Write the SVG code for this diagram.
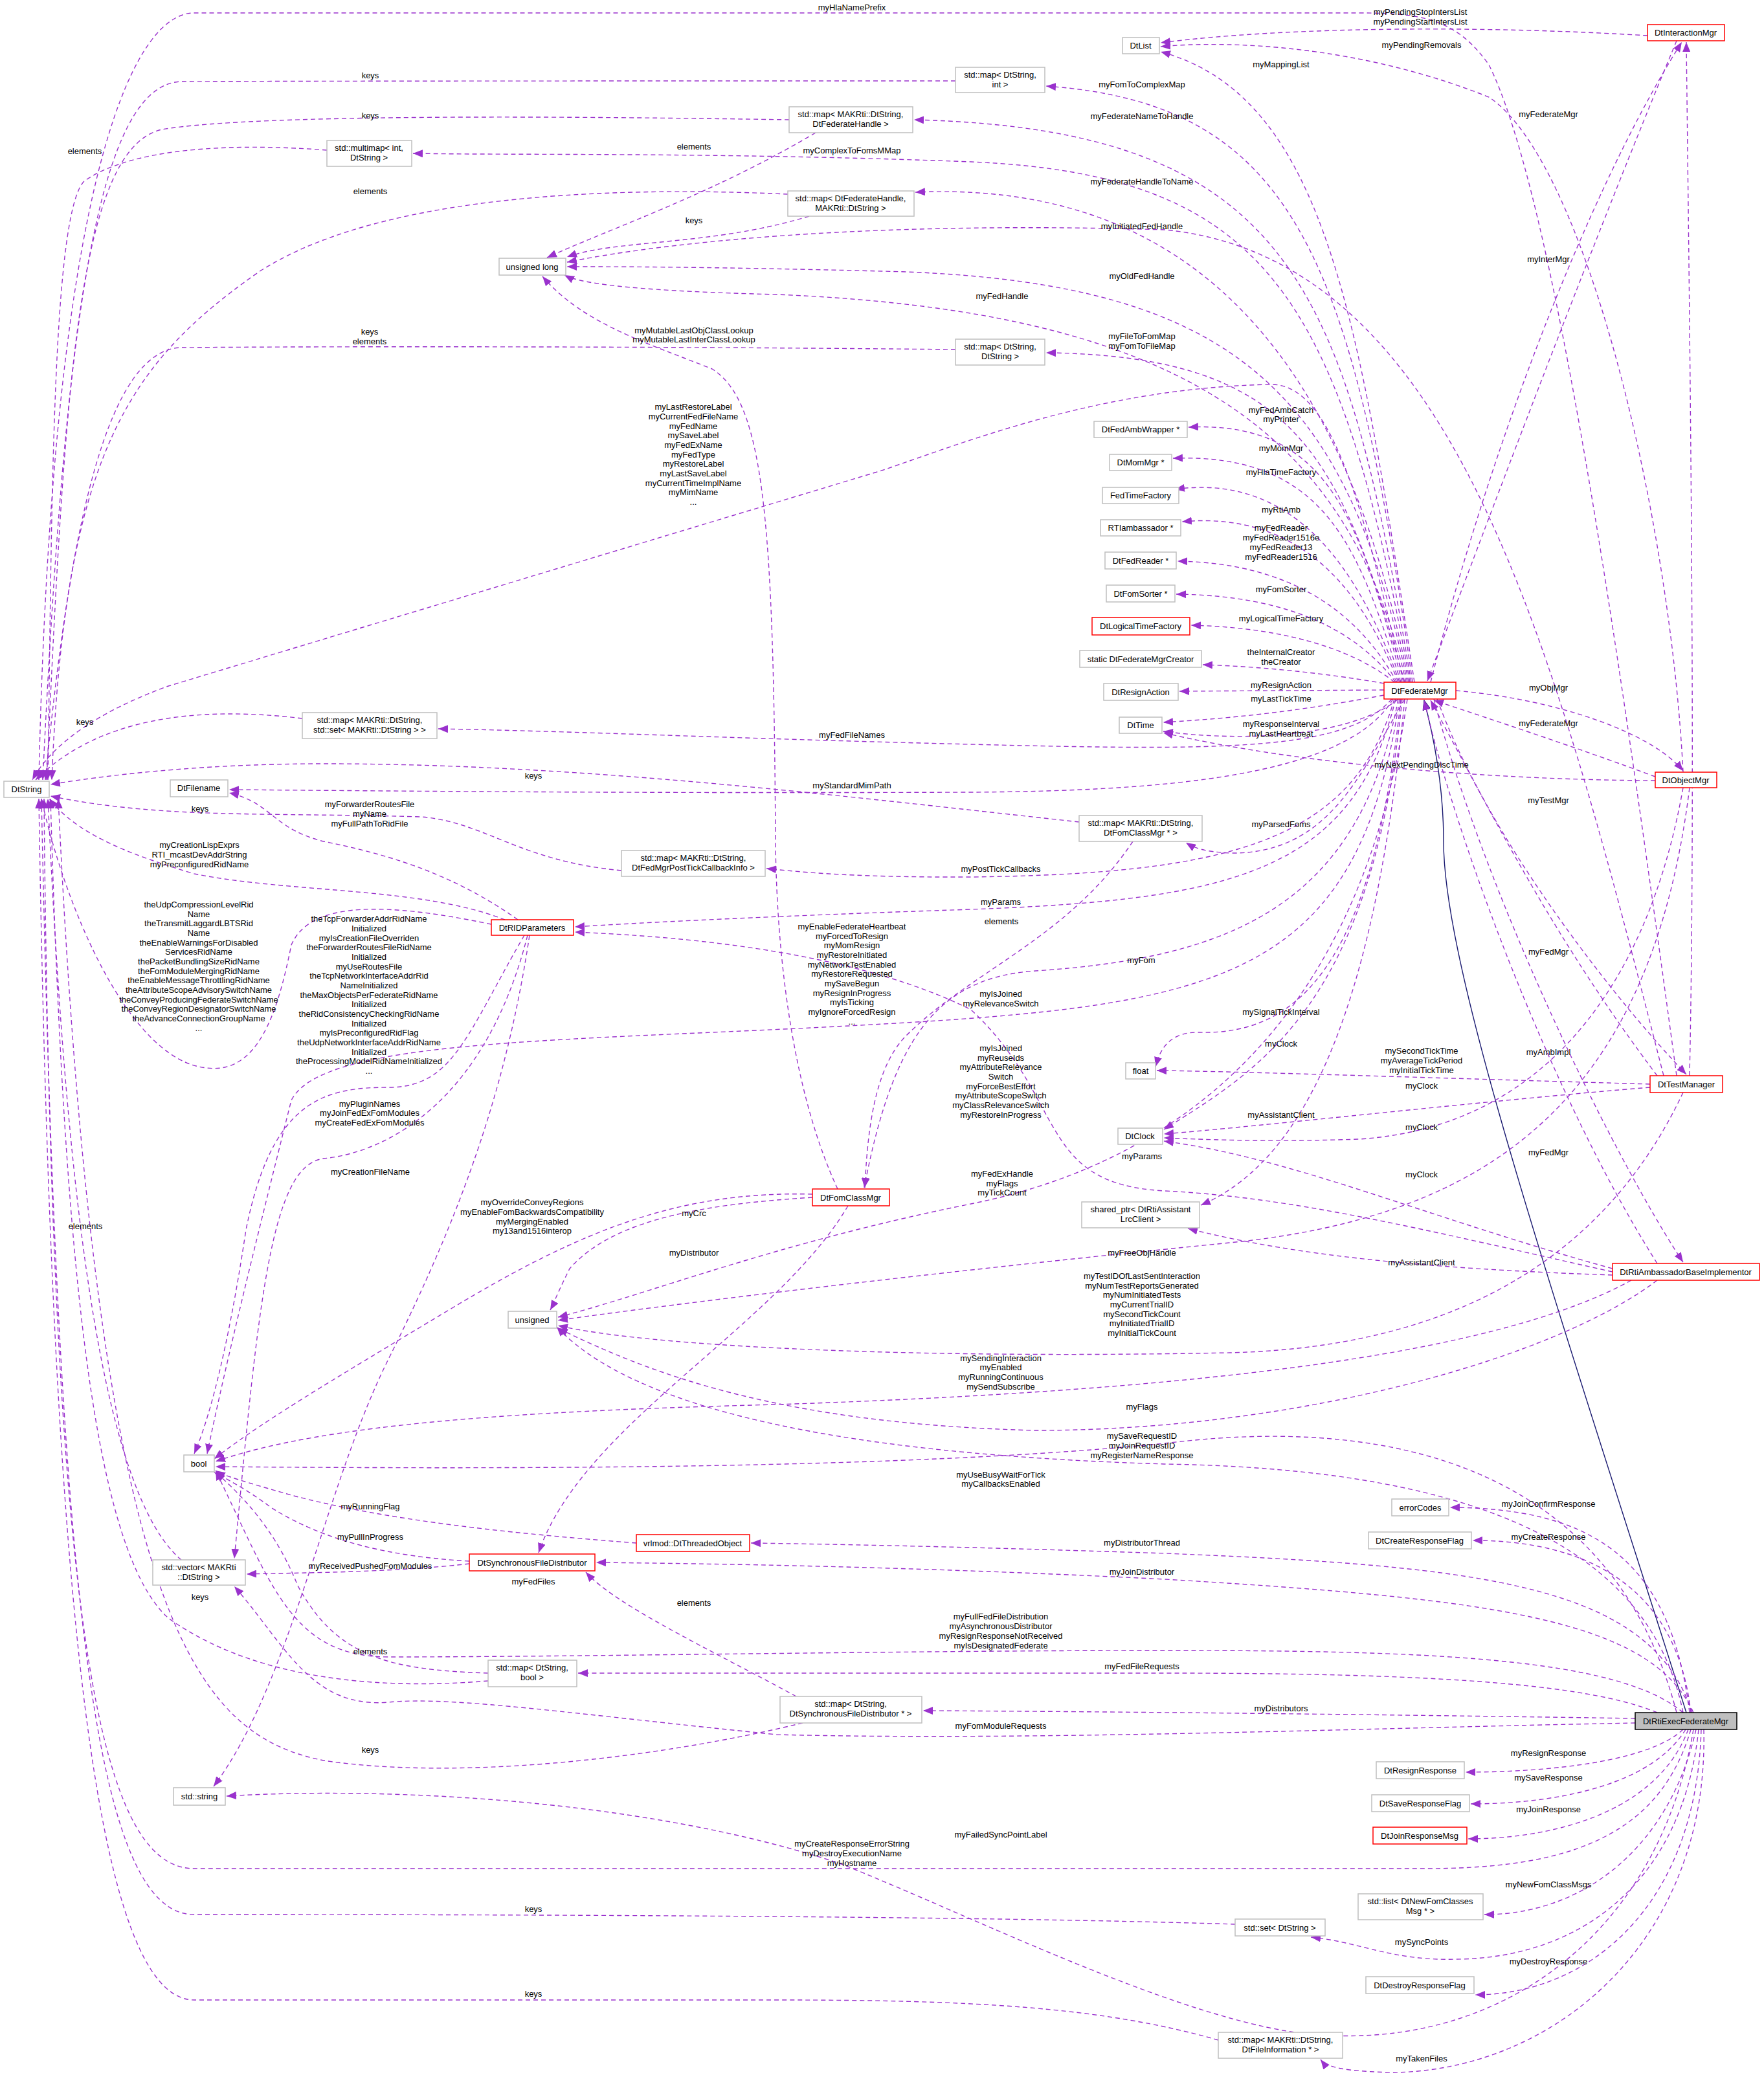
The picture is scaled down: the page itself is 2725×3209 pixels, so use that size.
<svg xmlns="http://www.w3.org/2000/svg" width="2725" height="3209" viewBox="0 0 2725 3209">
<style>
text{font-family:"Liberation Sans",Arial,sans-serif;font-size:13px;fill:#000}
.n{text-anchor:middle}
.b{fill:#fff;stroke:#bfbfbf;stroke-width:1.5}
.r{fill:#fff;stroke:#ff0000;stroke-width:1.5}
.g{fill:#bfbfbf;stroke:#000;stroke-width:1.5}
.e{fill:none;stroke:#9a32cd;stroke-width:1.4;stroke-dasharray:7,5;marker-end:url(#a)}
.i{fill:none;stroke:#191970;stroke-width:1.4;marker-end:url(#ai)}
.l{text-anchor:middle}
</style>
<defs>
<marker id="a" markerUnits="userSpaceOnUse" markerWidth="16" markerHeight="12" refX="15" refY="6" orient="auto"><path d="M0,0 L15,6 L0,12 z" fill="#9a32cd"/></marker>
<marker id="ai" markerUnits="userSpaceOnUse" markerWidth="16" markerHeight="12" refX="15" refY="6" orient="auto"><path d="M0,0 L15,6 L0,12 z" fill="#9a32cd" stroke="#191970"/></marker>
</defs>
<rect width="2725" height="3209" fill="#fff"/>
<g id="connectors">
<path class="e" d="M2185,1054 C2100,500 2050,150 1793,80"/>
<path class="e" d="M2182,1054 C2090,400 2000,160 1616,133"/>
<path class="e" d="M2180,1054 C2080,450 2000,200 1412,185"/>
<path class="e" d="M2178,1054 C2070,450 1950,270 1500,250 C1100,235 800,240 638,237"/>
<path class="e" d="M2176,1054 C2070,500 1800,280 1414,297"/>
<path class="e" d="M2570,1662 C2400,1000 2250,400 1800,355 C1300,340 1000,380 876,405"/>
<path class="e" d="M2174,1054 C2080,600 1900,440 1400,420 C1100,412 950,412 876,412"/>
<path class="e" d="M2172,1054 C2080,650 1800,480 1200,455 C1000,450 900,440 872,425"/>
<path class="e" d="M2170,1054 C2070,700 2000,550 1616,545"/>
<path class="e" d="M2168,1054 C2100,750 2050,590 1960,594 C1700,600 1500,680 1362,727 L260,1060 C150,1100 80,1150 50,1205"/>
<path class="e" d="M2166,1054 C2100,800 2050,650 1836,660"/>
<path class="e" d="M2164,1054 C2100,850 2050,700 1812,708"/>
<path class="e" d="M2162,1054 C2100,880 2000,730 1815,756"/>
<path class="e" d="M2160,1054 C2100,900 2000,790 1826,806"/>
<path class="e" d="M2158,1054 C2100,950 2000,870 1819,867"/>
<path class="e" d="M2156,1054 C2100,980 2000,920 1817,918"/>
<path class="e" d="M2154,1054 C2100,1010 2000,970 1840,966"/>
<path class="e" d="M2150,1058 C2050,1040 1950,1030 1858,1027"/>
<path class="e" d="M2138,1066 L1822,1068"/>
<path class="e" d="M2138,1074 C2000,1100 1900,1110 1797,1116"/>
<path class="e" d="M2160,1080 C2100,1130 1950,1150 1797,1130"/>
<path class="e" d="M2249,1067 C2400,1080 2550,1130 2600,1191"/>
<path class="e" d="M2557,1200 C2450,1160 2300,1110 2215,1082"/>
<path class="e" d="M2557,1206 C2300,1205 2000,1180 1797,1132"/>
<path class="e" d="M2150,1080 C2080,1160 1900,1160 1500,1150 C1100,1140 900,1130 677,1126"/>
<path class="e" d="M2152,1080 C2080,1200 1800,1222 1500,1224 C1000,1226 600,1222 354,1220"/>
<path class="e" d="M2170,1080 C2100,1200 2050,1320 1900,1318 C1860,1316 1845,1310 1832,1302"/>
<path class="e" d="M2154,1080 C2090,1300 1900,1350 1500,1355 C1300,1356 1220,1345 1184,1342"/>
<path class="e" d="M2156,1080 C2090,1350 1900,1390 1500,1405 C1200,1415 1000,1425 888,1432"/>
<path class="e" d="M2160,1080 C2100,1400 1900,1480 1600,1500 C1450,1510 1380,1600 1335,1835"/>
<path class="e" d="M2162,1080 C2100,1500 1900,1550 1400,1580 C900,1610 500,1600 450,1700 C400,1900 350,2100 320,2246"/>
<path class="e" d="M2164,1080 C2120,1500 2000,1600 1850,1595 C1800,1595 1790,1630 1785,1648"/>
<path class="e" d="M2166,1080 C2120,1550 1950,1650 1798,1745"/>
<path class="e" d="M2170,1080 C2120,1600 2000,1800 1855,1862"/>
<path class="e" d="M2174,1080 C2100,1600 1800,1800 1500,1860 C1200,1920 1000,2000 862,2035"/>
<path class="i" d="M2605,2646 C2400,2000 2230,1500 2230,1300 C2230,1200 2210,1120 2200,1082"/>
<path class="e" d="M2545,55 C2300,40 2000,40 1793,66"/>
<path class="e" d="M2590,1662 C2500,1000 2400,300 2300,100 C2250,30 2200,20 2100,20 L300,20 C200,20 80,300 60,1205"/>
<path class="e" d="M2600,1193 C2580,800 2450,250 2300,150 C2100,70 1900,62 1793,72"/>
<path class="e" d="M2590,63 C2450,400 2300,800 2205,1052"/>
<path class="e" d="M2210,1054 C2300,700 2450,300 2598,65"/>
<path class="e" d="M2610,1662 C2620,1200 2610,500 2605,65"/>
<path class="e" d="M2220,1080 C2300,1300 2500,1550 2605,1660"/>
<path class="e" d="M2560,1662 C2400,1450 2300,1250 2210,1082"/>
<path class="e" d="M2549,1675 C2200,1665 1900,1655 1787,1654"/>
<path class="e" d="M2549,1680 C2300,1700 1950,1740 1798,1752"/>
<path class="e" d="M2600,1217 C2550,1500 2400,1740 2100,1760 C1950,1765 1850,1760 1798,1758"/>
<path class="e" d="M2215,1080 C2300,1400 2500,1800 2600,1950"/>
<path class="e" d="M2560,1952 C2400,1700 2250,1300 2200,1082"/>
<path class="e" d="M2491,1960 C2200,1880 2000,1790 1798,1763"/>
<path class="e" d="M2491,1970 C2200,1960 2000,1940 1835,1898"/>
<path class="e" d="M2491,1965 C2200,1900 2000,1850 1800,1840 C1600,1830 1650,1700 1500,1560 C1300,1460 1000,1445 888,1440"/>
<path class="e" d="M2610,1217 C2550,1700 2300,1880 1900,1920 C1400,1970 1000,2020 862,2040"/>
<path class="e" d="M2600,1688 C2500,1900 2300,2080 1900,2090 C1400,2100 1000,2080 862,2048"/>
<path class="e" d="M2520,1978 C2300,2100 1800,2150 1200,2170 C800,2180 500,2200 333,2258"/>
<path class="e" d="M2560,1978 C2400,2100 2000,2210 1600,2210 C1200,2200 1000,2120 862,2052"/>
<path class="e" d="M2600,2646 C2550,2400 2300,2270 1800,2262 C1400,2250 1000,2200 860,2050"/>
<path class="e" d="M2590,2646 C2500,2300 2200,2180 1800,2230 C1400,2270 800,2270 333,2266"/>
<path class="e" d="M2610,2646 C2580,2400 2450,2330 2240,2329"/>
<path class="e" d="M2612,2646 C2590,2450 2450,2380 2275,2380"/>
<path class="e" d="M2614,2646 C2550,2450 2300,2420 1800,2400 C1500,2390 1300,2386 1160,2384"/>
<path class="e" d="M2616,2646 C2550,2500 2300,2470 1800,2440 C1400,2420 1100,2416 921,2414"/>
<path class="e" d="M2600,2646 C2500,2560 2200,2550 1800,2550 C1400,2550 900,2560 600,2560 C450,2560 420,2450 333,2272"/>
<path class="e" d="M2560,2646 C2450,2600 2200,2585 1800,2585 L893,2585"/>
<path class="e" d="M2526,2655 C2200,2650 1800,2645 1426,2643"/>
<path class="e" d="M2526,2662 C2100,2670 1600,2690 1200,2680 C900,2650 700,2620 600,2630 C480,2640 440,2540 362,2451"/>
<path class="e" d="M2600,2672 C2550,2720 2400,2738 2264,2738"/>
<path class="e" d="M2604,2672 C2550,2760 2400,2787 2272,2787"/>
<path class="e" d="M2608,2672 C2560,2800 2400,2841 2268,2841"/>
<path class="e" d="M2612,2672 C2560,2850 2400,2887 2200,2887 L300,2887 C150,2887 80,2500 68,1234"/>
<path class="e" d="M2616,2672 C2560,3000 2300,3180 2000,3140 C1800,3110 1500,2960 1300,2880 C1000,2780 600,2760 350,2775"/>
<path class="e" d="M2620,2672 C2580,2850 2450,2958 2293,2958"/>
<path class="e" d="M2624,2672 C2600,2900 2450,3025 2250,3027 C2150,3030 2100,3000 2025,2993"/>
<path class="e" d="M2628,2672 C2620,2950 2450,3082 2279,3082"/>
<path class="e" d="M2632,2672 C2640,3000 2400,3200 2150,3202 C2080,3200 2050,3195 2040,3182"/>
<path class="e" d="M1908,2973 C1500,2960 800,2958 300,2958 C150,2958 90,2500 64,1234"/>
<path class="e" d="M1882,3152 C1700,3100 1500,3090 1200,3090 L300,3090 C150,3090 80,2500 60,1234"/>
<path class="e" d="M754,2585 C600,2580 520,2560 460,2450 C420,2350 360,2300 333,2274"/>
<path class="e" d="M754,2597 C600,2610 400,2600 260,2500 C150,2400 100,2000 78,1234"/>
<path class="e" d="M1230,2621 C1100,2550 950,2480 905,2429"/>
<path class="e" d="M1240,2662 C1000,2720 700,2750 500,2720 C300,2680 150,2500 90,1234"/>
<path class="e" d="M725,2416 C600,2430 450,2430 381,2432"/>
<path class="e" d="M725,2412 C600,2405 500,2380 420,2330 C380,2300 350,2285 331,2275"/>
<path class="e" d="M983,2384 C800,2370 600,2350 450,2310 C380,2290 345,2280 333,2272"/>
<path class="e" d="M1310,1863 C1200,2050 900,2200 832,2399"/>
<path class="e" d="M1255,1850 C1100,1860 950,1880 880,1960 C860,2000 855,2015 850,2024"/>
<path class="e" d="M1255,1845 C1050,1840 900,1900 700,2020 C500,2140 400,2200 331,2254"/>
<path class="e" d="M1294,1837 C1230,1700 1200,1500 1198,1300 C1195,800 1180,620 1100,570 C1000,530 900,500 838,427"/>
<path class="e" d="M1750,1300 C1650,1450 1500,1500 1400,1600 C1350,1650 1340,1750 1336,1835"/>
<path class="e" d="M1667,1270 C1300,1230 900,1180 500,1180 C300,1180 150,1200 78,1212"/>
<path class="e" d="M960,1345 C800,1330 750,1270 650,1262 C400,1255 250,1265 78,1230"/>
<path class="e" d="M467,1110 C300,1090 150,1110 55,1205"/>
<path class="e" d="M1476,540 C1000,535 500,535 280,537 C150,540 100,900 70,1205"/>
<path class="e" d="M1217,300 C1000,290 600,290 400,420 C200,560 100,700 80,1205"/>
<path class="e" d="M1250,334 C1100,380 950,370 876,397"/>
<path class="e" d="M1219,185 C900,180 400,175 250,200 C120,230 100,600 72,1205"/>
<path class="e" d="M1260,205 C1100,300 950,350 845,398"/>
<path class="e" d="M505,232 C350,220 200,230 130,280 C80,330 80,800 74,1205"/>
<path class="e" d="M1476,125 C1000,125 500,125 280,126 C150,130 100,500 66,1205"/>
<path class="e" d="M800,1421 C700,1350 600,1320 500,1300 C420,1280 420,1240 354,1225"/>
<path class="e" d="M780,1421 C650,1370 450,1380 300,1350 C200,1320 120,1290 76,1234"/>
<path class="e" d="M759,1428 C600,1395 480,1390 450,1460 C430,1560 400,1660 320,1650 C200,1640 100,1400 64,1234"/>
<path class="e" d="M810,1445 C720,1600 700,1680 600,1680 C500,1680 420,1700 380,1900 C350,2100 320,2200 300,2246"/>
<path class="e" d="M815,1445 C750,1700 600,1780 500,1790 C420,1800 400,2000 362,2408"/>
<path class="e" d="M818,1445 C780,1700 700,1900 600,2100 C500,2300 450,2600 330,2760"/>
<path class="e" d="M280,2410 C150,2300 100,1800 74,1234"/>
<g class="l">
<text x="1316" y="16">myHlaNamePrefix</text>
<text x="2194" y="23">myPendingStopIntersList</text><text x="2194" y="38">myPendingStartIntersList</text>
<text x="2196" y="74">myPendingRemovals</text>
<text x="1979" y="104">myMappingList</text>
<text x="572" y="121">keys</text>
<text x="1764" y="135">myFomToComplexMap</text>
<text x="2392" y="181">myFederateMgr</text>
<text x="572" y="183">keys</text>
<text x="1764" y="184">myFederateNameToHandle</text>
<text x="131" y="238">elements</text>
<text x="1072" y="231">elements</text>
<text x="1316" y="237">myComplexToFomsMMap</text>
<text x="1764" y="285">myFederateHandleToName</text>
<text x="572" y="300">elements</text>
<text x="1072" y="345">keys</text>
<text x="1764" y="354">myInitiatedFedHandle</text>
<text x="2392" y="405">myInterMgr</text>
<text x="1764" y="431">myOldFedHandle</text>
<text x="1548" y="462">myFedHandle</text>
<text x="571" y="517">keys</text><text x="571" y="532">elements</text>
<text x="1072" y="515">myMutableLastObjClassLookup</text><text x="1072" y="529">myMutableLastInterClassLookup</text>
<text x="1764" y="524">myFileToFomMap</text><text x="1764" y="539">myFomToFileMap</text>
<text x="1071" y="633">myLastRestoreLabel</text><text x="1071" y="648">myCurrentFedFileName</text><text x="1071" y="663">myFedName</text><text x="1071" y="677">mySaveLabel</text><text x="1071" y="692">myFedExName</text><text x="1071" y="707">myFedType</text><text x="1071" y="721">myRestoreLabel</text><text x="1071" y="736">myLastSaveLabel</text><text x="1071" y="751">myCurrentTimeImplName</text><text x="1071" y="765">myMimName</text><text x="1071" y="780">...</text>
<text x="1979" y="638">myFedAmbCatch</text><text x="1979" y="652">myPrinter</text>
<text x="1979" y="697">myMomMgr</text>
<text x="1979" y="734">myHlaTimeFactory</text>
<text x="1979" y="792">myRtiAmb</text>
<text x="1979" y="820">myFedReader</text><text x="1979" y="835">myFedReader1516e</text><text x="1979" y="850">myFedReader13</text><text x="1979" y="865">myFedReader1516</text>
<text x="1979" y="915">myFomSorter</text>
<text x="1979" y="960">myLogicalTimeFactory</text>
<text x="1979" y="1012">theInternalCreator</text><text x="1979" y="1027">theCreator</text>
<text x="1979" y="1063">myResignAction</text>
<text x="2392" y="1067">myObjMgr</text>
<text x="1979" y="1084">myLastTickTime</text>
<text x="131" y="1120">keys</text>
<text x="1979" y="1123">myResponseInterval</text><text x="1979" y="1138">myLastHeartbeat</text>
<text x="2392" y="1122">myFederateMgr</text>
<text x="1316" y="1140">myFedFileNames</text>
<text x="2196" y="1186">myNextPendingDiscTime</text>
<text x="824" y="1203">keys</text>
<text x="1316" y="1218">myStandardMimPath</text>
<text x="2392" y="1241">myTestMgr</text>
<text x="571" y="1247">myForwarderRoutesFile</text><text x="571" y="1262">myName</text><text x="571" y="1277">myFullPathToRidFile</text>
<text x="309" y="1254">keys</text>
<text x="1979" y="1278">myParsedFoms</text>
<text x="308" y="1310">myCreationLispExprs</text><text x="308" y="1325">RTI_mcastDevAddrString</text><text x="308" y="1340">myPreconfiguredRidName</text>
<text x="1546" y="1347">myPostTickCallbacks</text>
<text x="1546" y="1398">myParams</text>
<text x="307" y="1402">theUdpCompressionLevelRid</text><text x="307" y="1417">Name</text><text x="307" y="1431">theTransmitLaggardLBTSRid</text><text x="307" y="1446">Name</text><text x="307" y="1461">theEnableWarningsForDisabled</text><text x="307" y="1475">ServicesRidName</text><text x="307" y="1490">thePacketBundlingSizeRidName</text><text x="307" y="1505">theFomModuleMergingRidName</text><text x="307" y="1519">theEnableMessageThrottlingRidName</text><text x="307" y="1534">theAttributeScopeAdvisorySwitchName</text><text x="307" y="1549">theConveyProducingFederateSwitchName</text><text x="307" y="1563">theConveyRegionDesignatorSwitchName</text><text x="307" y="1578">theAdvanceConnectionGroupName</text><text x="307" y="1593">...</text>
<text x="570" y="1424">theTcpForwarderAddrRidName</text><text x="570" y="1439">Initialized</text><text x="570" y="1454">myIsCreationFileOverriden</text><text x="570" y="1468">theForwarderRoutesFileRidName</text><text x="570" y="1483">Initialized</text><text x="570" y="1498">myUseRoutesFile</text><text x="570" y="1512">theTcpNetworkInterfaceAddrRid</text><text x="570" y="1527">NameInitialized</text><text x="570" y="1542">theMaxObjectsPerFederateRidName</text><text x="570" y="1556">Initialized</text><text x="570" y="1571">theRidConsistencyCheckingRidName</text><text x="570" y="1586">Initialized</text><text x="570" y="1600">myIsPreconfiguredRidFlag</text><text x="570" y="1615">theUdpNetworkInterfaceAddrRidName</text><text x="570" y="1630">Initialized</text><text x="570" y="1644">theProcessingModelRidNameInitialized</text><text x="570" y="1659">...</text>
<text x="1547" y="1428">elements</text>
<text x="1316" y="1436">myEnableFederateHeartbeat</text><text x="1316" y="1451">myForcedToResign</text><text x="1316" y="1465">myMomResign</text><text x="1316" y="1480">myRestoreInitiated</text><text x="1316" y="1495">myNetworkTestEnabled</text><text x="1316" y="1509">myRestoreRequested</text><text x="1316" y="1524">mySaveBegun</text><text x="1316" y="1539">myResignInProgress</text><text x="1316" y="1553">myIsTicking</text><text x="1316" y="1568">myIgnoreForcedResign</text><text x="1316" y="1583">...</text>
<text x="2392" y="1475">myFedMgr</text>
<text x="1763" y="1488">myFom</text>
<text x="1546" y="1540">myIsJoined</text><text x="1546" y="1555">myRelevanceSwitch</text>
<text x="1979" y="1568">mySignalTickInterval</text>
<text x="1979" y="1617">myClock</text>
<text x="1546" y="1624">myIsJoined</text><text x="1546" y="1639">myReuseIds</text><text x="1546" y="1653">myAttributeRelevance</text><text x="1546" y="1668">Switch</text><text x="1546" y="1683">myForceBestEffort</text><text x="1546" y="1697">myAttributeScopeSwitch</text><text x="1546" y="1712">myClassRelevanceSwitch</text><text x="1546" y="1727">myRestoreInProgress</text>
<text x="2196" y="1628">mySecondTickTime</text><text x="2196" y="1643">myAverageTickPeriod</text><text x="2196" y="1658">myInitialTickTime</text>
<text x="2392" y="1630">myAmbImpl</text>
<text x="2196" y="1682">myClock</text>
<text x="571" y="1710">myPluginNames</text><text x="571" y="1724">myJoinFedExFomModules</text><text x="571" y="1739">myCreateFedExFomModules</text>
<text x="1979" y="1727">myAssistantClient</text>
<text x="2196" y="1746">myClock</text>
<text x="2392" y="1785">myFedMgr</text>
<text x="1764" y="1791">myParams</text>
<text x="572" y="1815">myCreationFileName</text>
<text x="1548" y="1818">myFedExHandle</text><text x="1548" y="1833">myFlags</text><text x="1548" y="1847">myTickCount</text>
<text x="2196" y="1819">myClock</text>
<text x="822" y="1862">myOverrideConveyRegions</text><text x="822" y="1877">myEnableFomBackwardsCompatibility</text><text x="822" y="1892">myMergingEnabled</text><text x="822" y="1906">my13and1516interop</text>
<text x="1072" y="1879">myCrc</text>
<text x="132" y="1899">elements</text>
<text x="1072" y="1940">myDistributor</text>
<text x="1764" y="1940">myFreeObjHandle</text>
<text x="2196" y="1955">myAssistantClient</text>
<text x="1764" y="1976">myTestIDOfLastSentInteraction</text><text x="1764" y="1991">myNumTestReportsGenerated</text><text x="1764" y="2005">myNumInitiatedTests</text><text x="1764" y="2020">myCurrentTrialID</text><text x="1764" y="2035">mySecondTickCount</text><text x="1764" y="2049">myInitiatedTrialID</text><text x="1764" y="2064">myInitialTickCount</text>
<text x="1546" y="2103">mySendingInteraction</text><text x="1546" y="2117">myEnabled</text><text x="1546" y="2132">myRunningContinuous</text><text x="1546" y="2147">mySendSubscribe</text>
<text x="1764" y="2178">myFlags</text>
<text x="1764" y="2223">mySaveRequestID</text><text x="1764" y="2238">myJoinRequestID</text><text x="1764" y="2253">myRegisterNameResponse</text>
<text x="1546" y="2283">myUseBusyWaitForTick</text><text x="1546" y="2297">myCallbacksEnabled</text>
<text x="2392" y="2328">myJoinConfirmResponse</text>
<text x="572" y="2332">myRunningFlag</text>
<text x="2392" y="2379">myCreateResponse</text>
<text x="572" y="2379">myPullInProgress</text>
<text x="1764" y="2388">myDistributorThread</text>
<text x="572" y="2424">myReceivedPushedFomModules</text>
<text x="1764" y="2433">myJoinDistributor</text>
<text x="824" y="2448">myFedFiles</text>
<text x="309" y="2472">keys</text>
<text x="1072" y="2481">elements</text>
<text x="1546" y="2502">myFullFedFileDistribution</text><text x="1546" y="2517">myAsynchronousDistributor</text><text x="1546" y="2532">myResignResponseNotReceived</text><text x="1546" y="2547">myIsDesignatedFederate</text>
<text x="572" y="2556">elements</text>
<text x="1764" y="2579">myFedFileRequests</text>
<text x="1979" y="2644">myDistributors</text>
<text x="1546" y="2671">myFomModuleRequests</text>
<text x="572" y="2708">keys</text>
<text x="2392" y="2713">myResignResponse</text>
<text x="2392" y="2751">mySaveResponse</text>
<text x="2392" y="2800">myJoinResponse</text>
<text x="1546" y="2839">myFailedSyncPointLabel</text>
<text x="1316" y="2853">myCreateResponseErrorString</text><text x="1316" y="2868">myDestroyExecutionName</text><text x="1316" y="2883">myHostname</text>
<text x="2392" y="2916">myNewFomClassMsgs</text>
<text x="824" y="2954">keys</text>
<text x="2196" y="3005">mySyncPoints</text>
<text x="2392" y="3035">myDestroyResponse</text>
<text x="824" y="3085">keys</text>
<text x="2196" y="3185">myTakenFiles</text>
</g>
</g>
<g id="DtString"><rect class="b" x="6" y="1207" width="70" height="25"/><text class="n" x="41" y="1224">DtString</text></g>
<g id="DtFilename"><rect class="b" x="263" y="1205" width="89" height="26"/><text class="n" x="307" y="1222">DtFilename</text></g>
<g id="mapMSet"><rect class="b" x="467" y="1101" width="208" height="40"/><text class="n" x="571" y="1117">std::map&lt; MAKRti::DtString,</text><text class="n" x="571" y="1132">std::set&lt; MAKRti::DtString &gt; &gt;</text></g>
<g id="mapPostTick"><rect class="b" x="960" y="1314" width="222" height="40"/><text class="n" x="1071" y="1330">std::map&lt; MAKRti::DtString,</text><text class="n" x="1071" y="1345">DtFedMgrPostTickCallbackInfo &gt;</text></g>
<g id="DtRIDParameters"><rect class="r" x="759" y="1421" width="127" height="24"/><text class="n" x="822" y="1438">DtRIDParameters</text></g>
<g id="DtFomClassMgr"><rect class="r" x="1255" y="1837" width="119" height="26"/><text class="n" x="1314" y="1855">DtFomClassMgr</text></g>
<g id="unsigned"><rect class="b" x="785" y="2026" width="75" height="26"/><text class="n" x="822" y="2044">unsigned</text></g>
<g id="multimap"><rect class="b" x="505" y="217" width="131" height="40"/><text class="n" x="570" y="233">std::multimap&lt; int,</text><text class="n" x="570" y="248">DtString &gt;</text></g>
<g id="unsignedlong"><rect class="b" x="771" y="399" width="103" height="26"/><text class="n" x="822" y="417">unsigned long</text></g>
<g id="mapMFH"><rect class="b" x="1219" y="165" width="191" height="40"/><text class="n" x="1314" y="181">std::map&lt; MAKRti::DtString,</text><text class="n" x="1314" y="196">DtFederateHandle &gt;</text></g>
<g id="mapFHM"><rect class="b" x="1217" y="295" width="195" height="39"/><text class="n" x="1314" y="311">std::map&lt; DtFederateHandle,</text><text class="n" x="1314" y="326">MAKRti::DtString &gt;</text></g>
<g id="DtList"><rect class="b" x="1734" y="58" width="57" height="25"/><text class="n" x="1762" y="75">DtList</text></g>
<g id="mapSI"><rect class="b" x="1476" y="104" width="138" height="39"/><text class="n" x="1545" y="120">std::map&lt; DtString,</text><text class="n" x="1545" y="135">int &gt;</text></g>
<g id="mapSS"><rect class="b" x="1476" y="524" width="138" height="40"/><text class="n" x="1545" y="540">std::map&lt; DtString,</text><text class="n" x="1545" y="555">DtString &gt;</text></g>
<g id="DtInteractionMgr"><rect class="r" x="2545" y="38" width="119" height="25"/><text class="n" x="2604" y="55">DtInteractionMgr</text></g>
<g id="DtFedAmbWrapper"><rect class="b" x="1690" y="651" width="144" height="25"/><text class="n" x="1762" y="668">DtFedAmbWrapper *</text></g>
<g id="DtMomMgr"><rect class="b" x="1714" y="702" width="96" height="25"/><text class="n" x="1762" y="719">DtMomMgr *</text></g>
<g id="FedTimeFactory"><rect class="b" x="1703" y="753" width="118" height="25"/><text class="n" x="1762" y="770">FedTimeFactory</text></g>
<g id="RTIambassador"><rect class="b" x="1700" y="803" width="124" height="25"/><text class="n" x="1762" y="820">RTIambassador *</text></g>
<g id="DtFedReader"><rect class="b" x="1707" y="853" width="110" height="26"/><text class="n" x="1762" y="871">DtFedReader *</text></g>
<g id="DtFomSorter"><rect class="b" x="1709" y="904" width="106" height="26"/><text class="n" x="1762" y="922">DtFomSorter *</text></g>
<g id="DtLogicalTimeFactory"><rect class="r" x="1687" y="954" width="151" height="27"/><text class="n" x="1762" y="972">DtLogicalTimeFactory</text></g>
<g id="DtFederateMgrCreator"><rect class="b" x="1668" y="1005" width="188" height="26"/><text class="n" x="1762" y="1023">static DtFederateMgrCreator</text></g>
<g id="DtResignAction"><rect class="b" x="1705" y="1056" width="115" height="26"/><text class="n" x="1762" y="1074">DtResignAction</text></g>
<g id="DtFederateMgr"><rect class="r" x="2138" y="1054" width="111" height="26"/><text class="n" x="2193" y="1072">DtFederateMgr</text></g>
<g id="DtTime"><rect class="b" x="1729" y="1108" width="66" height="25"/><text class="n" x="1762" y="1125">DtTime</text></g>
<g id="DtObjectMgr"><rect class="r" x="2557" y="1193" width="95" height="24"/><text class="n" x="2604" y="1210">DtObjectMgr</text></g>
<g id="mapFCM"><rect class="b" x="1667" y="1260" width="190" height="40"/><text class="n" x="1762" y="1276">std::map&lt; MAKRti::DtString,</text><text class="n" x="1762" y="1291">DtFomClassMgr * &gt;</text></g>
<g id="float"><rect class="b" x="1739" y="1642" width="46" height="25"/><text class="n" x="1762" y="1659">float</text></g>
<g id="DtTestManager"><rect class="r" x="2549" y="1662" width="112" height="26"/><text class="n" x="2605" y="1680">DtTestManager</text></g>
<g id="DtClock"><rect class="b" x="1727" y="1743" width="69" height="25"/><text class="n" x="1761" y="1760">DtClock</text></g>
<g id="sharedptr"><rect class="b" x="1671" y="1857" width="182" height="40"/><text class="n" x="1762" y="1873">shared_ptr&lt; DtRtiAssistant</text><text class="n" x="1762" y="1888">LrcClient &gt;</text></g>
<g id="DtRtiAmbassadorBaseImplementor"><rect class="r" x="2491" y="1952" width="227" height="26"/><text class="n" x="2604" y="1970">DtRtiAmbassadorBaseImplementor</text></g>
<g id="bool"><rect class="b" x="284" y="2248" width="47" height="26"/><text class="n" x="307" y="2266">bool</text></g>
<g id="vector"><rect class="b" x="236" y="2410" width="143" height="39"/><text class="n" x="307" y="2426">std::vector&lt; MAKRti</text><text class="n" x="307" y="2441">::DtString &gt;</text></g>
<g id="DtThreadedObject"><rect class="r" x="983" y="2371" width="175" height="26"/><text class="n" x="1070" y="2389">vrlmod::DtThreadedObject</text></g>
<g id="DtSynchronousFileDistributor"><rect class="r" x="725" y="2401" width="194" height="26"/><text class="n" x="822" y="2419">DtSynchronousFileDistributor</text></g>
<g id="mapSB"><rect class="b" x="754" y="2565" width="137" height="41"/><text class="n" x="822" y="2581">std::map&lt; DtString,</text><text class="n" x="822" y="2596">bool &gt;</text></g>
<g id="mapSSFD"><rect class="b" x="1205" y="2621" width="219" height="41"/><text class="n" x="1314" y="2637">std::map&lt; DtString,</text><text class="n" x="1314" y="2652">DtSynchronousFileDistributor * &gt;</text></g>
<g id="stdstring"><rect class="b" x="268" y="2762" width="80" height="27"/><text class="n" x="308" y="2780">std::string</text></g>
<g id="errorCodes"><rect class="b" x="2150" y="2316" width="88" height="26"/><text class="n" x="2194" y="2334">errorCodes</text></g>
<g id="DtCreateResponseFlag"><rect class="b" x="2114" y="2367" width="159" height="26"/><text class="n" x="2193" y="2385">DtCreateResponseFlag</text></g>
<g id="DtRtiExecFederateMgr"><rect class="g" x="2526" y="2646" width="157" height="26"/><text class="n" x="2604" y="2664">DtRtiExecFederateMgr</text></g>
<g id="DtResignResponse"><rect class="b" x="2126" y="2722" width="136" height="26"/><text class="n" x="2194" y="2740">DtResignResponse</text></g>
<g id="DtSaveResponseFlag"><rect class="b" x="2119" y="2773" width="151" height="26"/><text class="n" x="2194" y="2791">DtSaveResponseFlag</text></g>
<g id="DtJoinResponseMsg"><rect class="r" x="2121" y="2823" width="145" height="26"/><text class="n" x="2193" y="2841">DtJoinResponseMsg</text></g>
<g id="stdlist"><rect class="b" x="2098" y="2926" width="193" height="40"/><text class="n" x="2194" y="2942">std::list&lt; DtNewFomClasses</text><text class="n" x="2194" y="2957">Msg * &gt;</text></g>
<g id="stdset"><rect class="b" x="1908" y="2965" width="139" height="26"/><text class="n" x="1977" y="2983">std::set&lt; DtString &gt;</text></g>
<g id="DtDestroyResponseFlag"><rect class="b" x="2110" y="3054" width="167" height="26"/><text class="n" x="2193" y="3072">DtDestroyResponseFlag</text></g>
<g id="mapFI"><rect class="b" x="1882" y="3140" width="192" height="40"/><text class="n" x="1978" y="3156">std::map&lt; MAKRti::DtString,</text><text class="n" x="1978" y="3171">DtFileInformation * &gt;</text></g>
</svg>
